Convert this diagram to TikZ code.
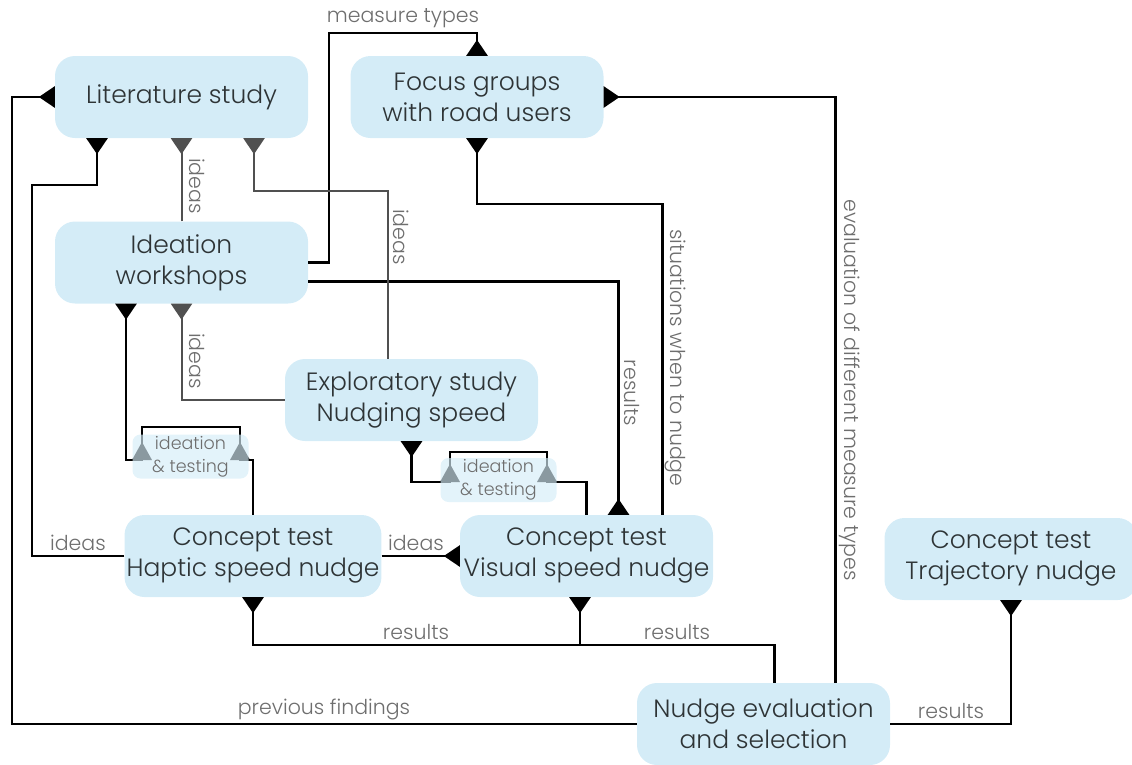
\documentclass[tikz,border=0pt]{standalone}
\usepackage{fontspec}
\setsansfont{Poppins}[UprightFont={* Light}]
\usepackage{xcolor}
\usetikzlibrary{arrows.meta}

\definecolor{boxblue}{HTML}{D4ECF7}
\definecolor{inktext}{HTML}{2E3436}
\definecolor{labelgray}{HTML}{6E6E6E}
\definecolor{wiregray}{HTML}{505050}

\begin{document}
\begin{tikzpicture}[
    x=1pt, y=-1pt,
    font=\sffamily,
    stage/.style={
        fill=boxblue, rounded corners=20pt, text=inktext,
        minimum width=253pt, minimum height=82pt, align=center, inner sep=2pt,
        font=\sffamily\fontsize{25}{31}\selectfont,
    },
    loopbox/.style={
        fill=boxblue, fill opacity=0.65, text opacity=1, rounded corners=8pt,
        text=labelgray, minimum width=116pt, minimum height=44pt, align=center,
        inner sep=0pt, font=\sffamily\fontsize{17.5}{23}\selectfont,
    },
    lbl/.style={text=labelgray, inner sep=0pt, font=\sffamily\fontsize{20.5}{22}\selectfont},
    wire/.style={draw=black, line width=2.4pt},
    softwire/.style={draw=wiregray, line width=2pt},
    into/.style={-{Triangle[reversed, width=21pt, length=16pt]}},
    outof/.style={{Triangle[reversed, width=21pt, length=16pt]}-},
    loopfoot/.style={fill=black},
]
\useasboundingbox (0,0) rectangle (1132,764);

% --- study stages ---
\node[stage] (lit) at (181.5,97) {Literature study};
\node[stage] (foc) at (477,97) {Focus groups\\with road users};
\node[stage] (ide) at (181.5,262.5) {Ideation\\workshops};
\node[stage] (exp) at (411.5,400) {Exploratory study\\Nudging speed};
\node[stage] (hap) at (253,556) {Concept test\\Haptic speed nudge};
\node[stage] (vis) at (586.5,556) {Concept test\\Visual speed nudge};
\node[stage] (traj) at (1011,559) {Concept test\\Trajectory nudge};
\node[stage] (nudge) at (763.5,724) {Nudge evaluation\\and selection};

% --- results back to the tests ---
\coordinate (jres) at (580,645);
\draw[wire, into] ([xshift=11]nudge.north) -- ++(0,-38) -| (hap.south);
\draw[wire, into] (jres) -- (jres |- vis.south);
\draw[wire, into] (nudge.east) -| (traj.south);
\draw[wire, into] (nudge.west) -| ([xshift=-43]lit.west) -- (lit.west);
\draw[wire, into] ([xshift=72]nudge.north) |- (foc.east);

% --- focus groups ---
\draw[wire, into] (ide.east) -| (329,33) -| (foc.north);
\draw[wire, into] ([yshift=-19pt]ide.east) -| ([xshift=32]vis.north);
\draw[wire, into] ([xshift=76]vis.north) -- ++(0,-311) -| (foc.south);

% --- ideas ---
\draw[wire, into] (hap.west) -| (32,185) -| ([xshift=-84.5]lit.south);
\draw[softwire, into] (ide.north) -- (lit.south);
\draw[softwire, into] ([xshift=-23.5]exp.north) -- ++(0,-168) -| ([xshift=72.5]lit.south);
\draw[softwire, into] (exp.west) -| (ide.south);
\draw[wire, into] (hap.east) -- (vis.west);

% --- iteration loops ---
\draw[wire, outof] ([xshift=-55.5]ide.south) |- (142,460) |- (240,427) |- (253,460) -- (hap.north);
\fill[loopfoot] (132,460) -- (152,460) -- (142,442) -- cycle;
\fill[loopfoot] (230,460) -- (250,460) -- (240,442) -- cycle;
\draw[wire, outof] (exp.south) |- (450,482) |- (547,452) |- (586.5,482) -- (vis.north);
\fill[loopfoot] (440,482) -- (460,482) -- (450,464) -- cycle;
\fill[loopfoot] (537,482) -- (557,482) -- (547,464) -- cycle;
\node[loopbox] (loop1) at (190.5,456.5) {ideation\\\& testing};
\node[loopbox] (loop2) at (498.5,480) {ideation\\\& testing};

% --- labels ---
\node[lbl] (lmeas) at (403,18) {measure types};
\node[lbl, rotate=-90] (lidea1) at (197,186) {ideas};
\node[lbl, rotate=-90] (lidea2) at (401,237) {ideas};
\node[lbl, rotate=-90] (lidea3) at (197,361) {ideas};
\node[lbl, rotate=-90] (lres1) at (632,393) {results};
\node[lbl, rotate=-90] (lsit) at (675,358) {situations when to nudge};
\node[lbl, rotate=-90] (leval) at (850,390) {evaluation of different measure types};
\node[lbl] (lidea4) at (78,543) {ideas};
\node[lbl] (lidea5) at (416,543) {ideas};
\node[lbl] (lres2) at (416,632) {results};
\node[lbl] (lres3) at (677,632) {results};
\node[lbl] (lprev) at (324,709) {previous findings};
\node[lbl] (lres4) at (951,711) {results};

\end{tikzpicture}
\end{document}
